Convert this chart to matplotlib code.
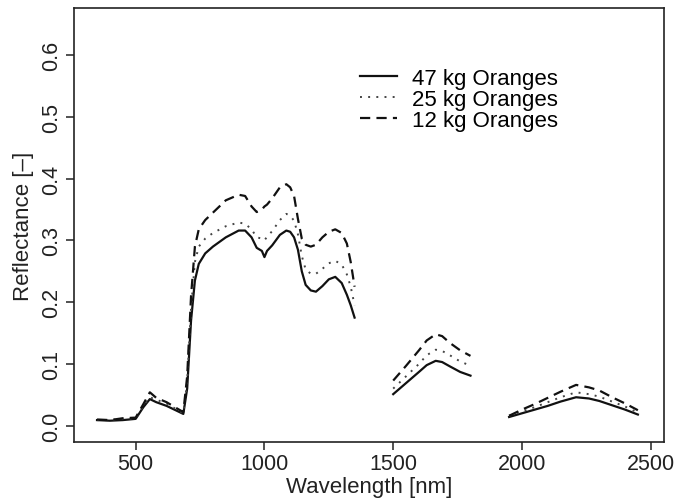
import numpy as np
import matplotlib
matplotlib.use("Agg")
import matplotlib.pyplot as plt

plt.rcParams['font.family'] = ['Liberation Sans', 'DejaVu Sans']

# Wavelength grid (nm); None marks the water-absorption gaps
wavelength = [350, 400, 450, 500, 530, 555, 580, 620, 660, 685, 700, 715, 730, 745,
              770, 800, 850, 900, 925, 950, 970, 990, 1000, 1010, 1030, 1060, 1085,
              1100, 1115, 1130, 1145, 1160, 1180, 1200, 1225, 1250, 1275, 1300, 1320, 1335, 1350,
              1425,
              1500, 1550, 1600, 1630, 1665, 1690, 1720, 1760, 1800,
              1875,
              1950, 2000, 2050, 2100, 2150, 2210, 2260, 2300, 2350, 2400, 2450]

refl_47kg = [.009, .008, .009, .011, .030, .043, .038, .032, .024, .019, .060, .170, .235, .262,
             .279, .290, .305, .316, .316, .305, .288, .283, .273, .283, .292, .309, .316,
             .314, .305, .285, .250, .228, .219, .217, .226, .237, .241, .231, .212, .195, .175,
             None,
             .051, .069, .087, .098, .105, .103, .096, .087, .081,
             None,
             .014, .020, .026, .032, .039, .046, .044, .040, .033, .026, .018]

refl_25kg = [.009, .009, .011, .012, .032, .046, .042, .036, .026, .020, .070, .190, .265, .290,
             .303, .312, .323, .329, .327, .318, .305, .303, .300, .306, .315, .333, .343,
             .340, .332, .310, .275, .253, .246, .246, .254, .263, .267, .261, .245, .225, .195,
             None,
             .060, .080, .100, .114, .123, .121, .114, .104, .097,
             None,
             .016, .023, .030, .038, .046, .054, .051, .047, .039, .031, .021]

refl_12kg = [.010, .009, .012, .013, .035, .054, .045, .038, .028, .022, .080, .210, .290, .318,
             .333, .345, .365, .374, .372, .355, .346, .350, .355, .358, .368, .386, .391,
             .386, .372, .335, .303, .293, .290, .293, .305, .314, .318, .312, .295, .265, .225,
             None,
             .073, .097, .122, .138, .148, .145, .134, .122, .113,
             None,
             .016, .026, .035, .045, .055, .066, .062, .057, .046, .036, .025]

labels = ["47 kg Oranges", "25 kg Oranges", "12 kg Oranges"]
x_ticks = [500, 1000, 1500, 2000, 2500]
y_ticks = [0.0, 0.1, 0.2, 0.3, 0.4, 0.5, 0.6]


def as_array(values):
    return np.array([np.nan if v is None else v for v in values], dtype=float)


fig = plt.figure(figsize=(6.78, 5.02), dpi=100)
ax = fig.add_axes([0.1097, 0.1169, 0.8691, 0.8646])

wl = np.array(wavelength, dtype=float)
ax.plot(wl, as_array(refl_47kg), color='#111111', lw=1.6, label=labels[0])
ax.plot(wl, as_array(refl_25kg), color='#444444', lw=1.4, dashes=(1, 3.2), label=labels[1])
ax.plot(wl, as_array(refl_12kg), color='#111111', lw=1.6, dashes=(4.6, 2.8), label=labels[2])

ax.set_xlim(262, 2550)
ax.set_ylim(-0.027, 0.676)
ax.set_xticks(x_ticks)
ax.set_yticks(y_ticks)
ax.set_yticklabels([f"{v:.1f}" for v in y_ticks], rotation=90, va='center')
ax.tick_params(axis='both', direction='out', length=6, width=1.1, labelsize=15.5, colors='#222222')
ax.tick_params(axis='x', pad=2)
ax.tick_params(axis='y', pad=3)
for s in ax.spines.values():
    s.set_linewidth(1.2)
    s.set_color('#222222')

ax.set_xlabel("Wavelength [nm]", fontsize=16, color='#222222', labelpad=1)
ax.set_ylabel("Reflectance [\u2013]", fontsize=16, color='#222222', labelpad=5)

ax.legend(loc='upper left', bbox_to_anchor=(0.485, 0.862), frameon=False,
          fontsize=16, handlelength=1.65, handletextpad=0.7, labelspacing=0.0,
          borderpad=0, borderaxespad=0)

fig.savefig("out.png", dpi=100)
